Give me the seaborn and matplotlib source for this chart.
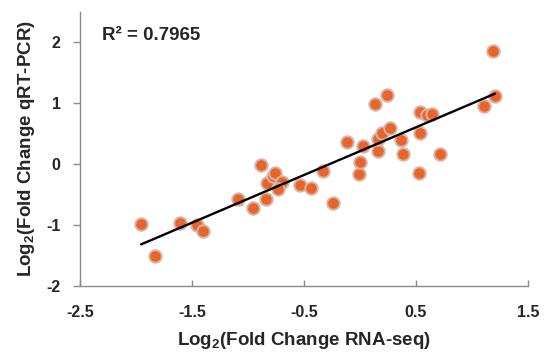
import matplotlib
matplotlib.use("Agg")
import matplotlib.pyplot as plt
import seaborn as sns
import pandas as pd

# Data
rna_seq = [-1.955, -1.83, -1.607, -1.453, -1.405, -1.087, -0.955, -0.887, -0.836,
           -0.83, -0.78, -0.76, -0.70, -0.735, -0.536, -0.44, -0.328, -0.238,
           -0.009, 0.0, -0.119, 0.024, 0.137, 0.244, 0.163, 0.158, 0.194, 0.268,
           0.37, 0.38, 0.53, 0.536, 0.54, 0.595, 0.646, 0.714, 1.19, 1.205, 1.11]
qrt_pcr = [-0.98, -1.50, -0.96, -1.00, -1.09, -0.573, -0.716, -0.008, -0.573,
           -0.315, -0.19, -0.14, -0.30, -0.40, -0.34, -0.39, -0.12, -0.64,
           -0.16, 0.04, 0.36, 0.30, 0.99, 1.14, 0.21, 0.42, 0.51, 0.60,
           0.39, 0.16, -0.14, 0.52, 0.86, 0.81, 0.83, 0.16, 1.86, 1.12, 0.96]
x_ticks = [-2.5, -1.5, -0.5, 0.5, 1.5]
y_ticks = [-2, -1, 0, 1, 2]
r2_label = "R² = 0.7965"

df = pd.DataFrame({"rna": rna_seq, "qpcr": qrt_pcr})

sns.set_theme(style="white")
plt.rcParams["font.family"] = ["Liberation Sans", "DejaVu Sans"]
plt.rcParams["font.weight"] = "bold"
plt.rcParams["mathtext.fontset"] = "custom"
plt.rcParams["mathtext.rm"] = "Liberation Sans:bold"
plt.rcParams["mathtext.bf"] = "Liberation Sans:bold"

fig = plt.figure(figsize=(5.5, 3.57), dpi=100)
ax = fig.add_axes([0.1455, 0.199, 0.8145, 0.7675])

sns.regplot(data=df, x="rna", y="qpcr", ax=ax, ci=None,
            scatter_kws=dict(s=80, color="#E8642A", edgecolors="#D6B4A6",
                             linewidths=1.4, alpha=1, zorder=3),
            line_kws=dict(color="black", linewidth=1.7, zorder=4))

ax.set_xlim(-2.5, 1.5)
ax.set_ylim(-2, 2.5)
ax.set_xticks(x_ticks)
ax.set_xticklabels([f"{t}" for t in x_ticks])
ax.set_yticks(y_ticks)
ax.set_yticklabels([f"{t}" for t in y_ticks])

for s in ["top", "right"]:
    ax.spines[s].set_visible(False)
for s in ["left", "bottom"]:
    ax.spines[s].set_color("#8a8a8a")
    ax.spines[s].set_linewidth(1.0)

ax.tick_params(axis="x", direction="in", length=4, width=1, color="#8a8a8a",
               pad=14, labelsize=11.5, bottom=True)
ax.tick_params(axis="y", direction="out", length=5, width=1, color="#8a8a8a",
               pad=9, labelsize=11.5, left=True)
for lab in ax.get_xticklabels() + ax.get_yticklabels():
    lab.set_fontweight("bold")

ax.set_xlabel(r"Log$_\mathbf{2}$(Fold Change RNA-seq)", fontsize=13.5, fontweight="bold")
ax.set_ylabel(r"Log$_\mathbf{2}$(Fold Change qRT-PCR)", fontsize=13.5, fontweight="bold")
ax.xaxis.set_label_coords(0.5, -0.16)
ax.yaxis.set_label_coords(-0.095, 0.5)

ax.text(0.048, 0.915, r2_label, transform=ax.transAxes, fontsize=13.5,
        fontweight="bold", va="center", ha="left")

fig.savefig("out.png", dpi=100)
